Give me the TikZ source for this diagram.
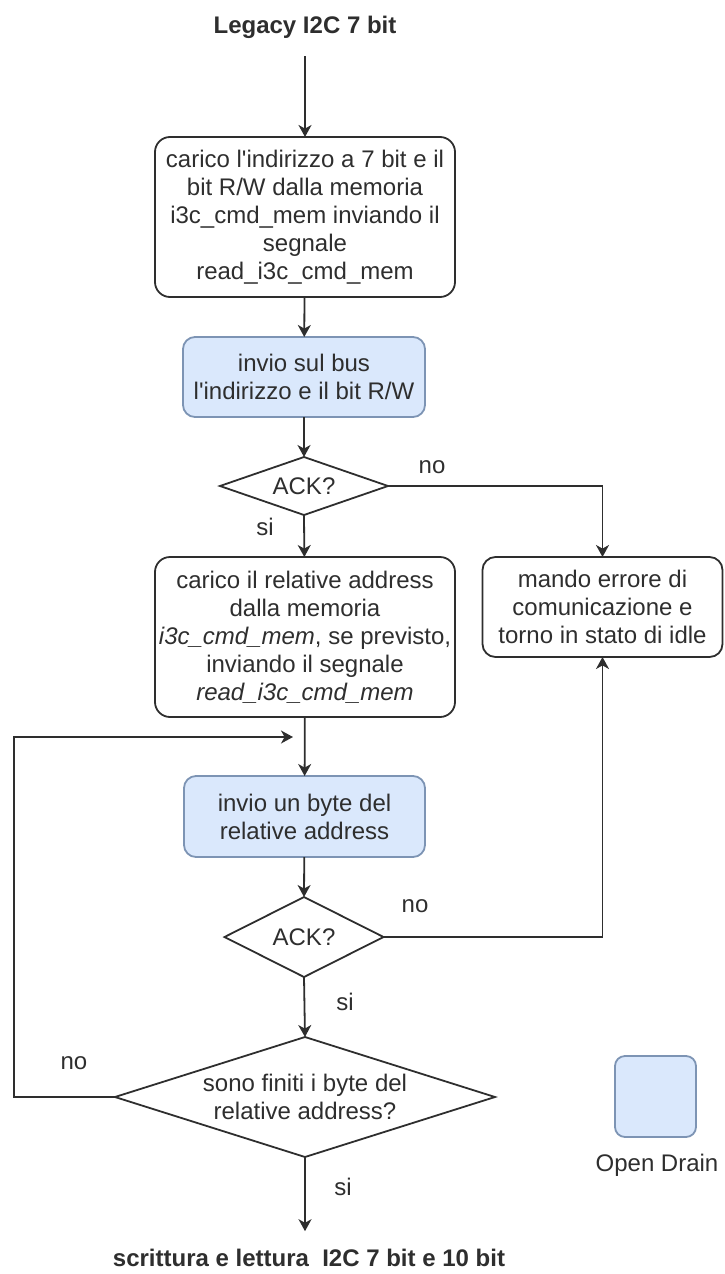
\documentclass[tikz,border=0pt]{standalone}
\usepackage{fontspec}
\setmainfont{Liberation Sans}[Ligatures=TeXOff]
\usetikzlibrary{arrows.meta}
\definecolor{odfill}{HTML}{DAE8FC}
\definecolor{oddraw}{HTML}{7D94B4}
\definecolor{ink}{HTML}{2E2E2E}
\begin{document}
\begin{tikzpicture}[x=0.5pt,y=-0.5pt,
  font=\fontsize{12}{14}\selectfont,
  base/.style={inner sep=0pt, outer sep=0pt, text=ink, align=center},
  proc/.style={base, draw=ink, line width=0.9pt, rounded corners=7.5pt},
  odproc/.style={base, draw=oddraw, fill=odfill, line width=0.9pt, rounded corners=6pt},
  decbox/.style={base},
  lbl/.style={base},
  term/.style={base, font=\fontsize{12}{14}\selectfont\bfseries},
  link/.style={draw=ink, line width=0.9pt},
  arr/.style={link, -{Stealth[length=6pt, width=6.5pt, inset=1.8pt]}}
]
\useasboundingbox (0,0) rectangle (724,1274);

% start and end terminals
\node[term] (start) at (305,27) {Legacy I2C 7 bit};
\node[term] (stop)  at (309,1258) {scrittura e lettura\ \ I2C 7 bit e 10 bit};

% process boxes
\node[proc, minimum width=150pt, minimum height=80pt] (load) at (305,217)
  {carico l'indirizzo a 7 bit e il\\bit R/W dalla memoria\\i3c\_cmd\_mem inviando il\\segnale\\read\_i3c\_cmd\_mem};
\node[odproc, minimum width=121pt, minimum height=40pt] (send) at (304,377)
  {invio sul bus\\l'indirizzo e il bit R/W};
\node[proc, minimum width=150pt, minimum height=80pt] (rel) at (305,637)
  {carico il relative address\\dalla memoria\\\textit{i3c\_cmd\_mem}, se previsto,\\inviando il segnale\\\textit{read\_i3c\_cmd\_mem}};
\node[proc, minimum width=120pt, minimum height=50pt, rounded corners=6.5pt] (err) at (602.5,607)
  {mando errore di\\comunicazione e\\torno in stato di idle};
\node[odproc, minimum width=120.5pt, minimum height=40.5pt] (byte) at (304.5,816.5)
  {invio un byte del\\relative address};

% decisions: a bounding box per node, the rhombus drawn on its anchors
\node[decbox, minimum width=84pt, minimum height=29pt] (ack1) at (304,486) {ACK?};
\node[decbox, minimum width=79.5pt, minimum height=40pt] (ack2) at (304,937) {ACK?};
\node[decbox, minimum width=190pt, minimum height=60pt] (done) at (305,1097)
  {sono finiti i byte del\\relative address?};
\foreach \d in {ack1,ack2,done}
  \draw[link, line join=miter] (\d.north) -- (\d.east) -- (\d.south) -- (\d.west) -- cycle;

% legend
\node[odproc, minimum width=40.5pt, minimum height=40.5pt, rounded corners=5pt] (legbox) at (655.5,1096.5) {};
\node[lbl] (legtext) at (657,1165) {Open Drain};

% loop re-entry point
\coordinate (loopcorner) at (14,737);
\coordinate (loopin) at (293,737);

% connectors
\draw[arr, shorten <=9pt] (start) -- (load);
\draw[arr] (load) -- (send);
\draw[arr] (send) -- (ack1.north);
\draw[arr] (ack1.south) -- (rel);
\draw[arr] (ack1.east) -| (err.north);
\draw[arr] (rel) -- (byte);
\draw[arr] (byte) -- (ack2.north);
\draw[arr] (ack2.east) -| (err.south);
\draw[arr] (ack2.south) -- (done.north);
\draw[arr] (done.west) -| (loopcorner) -- (loopin);
\draw[arr, shorten >=9pt] (done.south) -- (done.south |- stop.north);

% branch labels
\node[lbl] (no1) at (432,467) {no};
\node[lbl] (si1) at (265,527) {si};
\node[lbl] (no2) at (415,906) {no};
\node[lbl] (si2) at (345,1002) {si};
\node[lbl] (no3) at (74,1063) {no};
\node[lbl] (si3) at (343,1187) {si};
\end{tikzpicture}
\end{document}
